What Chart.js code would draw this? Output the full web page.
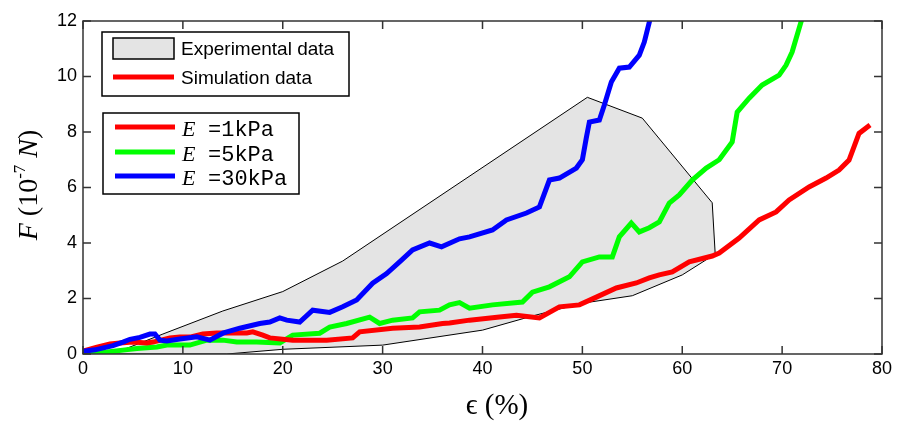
<!DOCTYPE html>
<html>
<head>
<meta charset="utf-8">
<script src="https://cdn.jsdelivr.net/npm/chart.js@4.4.0/dist/chart.umd.min.js"></script>
<style>
  html, body { margin: 0; background: #fff; }
</style>
</head>
<body>
<canvas id="force-chart" width="899" height="421"></canvas>
<script>
// experimental envelope (closed polygon), strain % / force 1e-7 N
const expStrain = [0, 4, 8, 14, 20, 26, 50.5, 56, 63, 63.3, 60, 55, 50, 45, 40, 30, 20, 14.4, 0];
const expForce  = [0, 0.15, 0.72, 1.55, 2.25, 3.35, 9.25, 8.5, 5.45, 3.6, 2.85, 2.1, 1.83, 1.37, 0.86, 0.32, 0.17, 0, 0];

// E = 1 kPa
const redStrain = [0, 1.4, 2.7, 3.7, 5, 6.4, 7, 8.7, 9.7, 10.7, 12, 13.4, 15.4, 16.4, 17, 18, 18.7, 21, 24.4, 27, 27.7, 31, 33.7, 36, 36.7, 38.7, 41.7, 43.4, 45.7, 47.7, 49.7, 51.4, 53.4, 55.4, 56.7, 57.7, 59, 60.7, 63, 63.7, 65.7, 67.7, 69.4, 70.7, 72.7, 74.4, 75.7, 76.7, 77.7, 78.8];
const redForce  = [0.1, 0.25, 0.36, 0.4, 0.43, 0.4, 0.43, 0.58, 0.61, 0.61, 0.72, 0.76, 0.76, 0.76, 0.8, 0.68, 0.58, 0.5, 0.5, 0.58, 0.8, 0.93, 0.97, 1.1, 1.12, 1.22, 1.33, 1.4, 1.3, 1.7, 1.77, 2.05, 2.38, 2.56, 2.74, 2.85, 2.96, 3.32, 3.53, 3.64, 4.18, 4.83, 5.12, 5.55, 6.02, 6.34, 6.63, 6.99, 7.95, 8.25];

// E = 5 kPa
const greenStrain = [0, 2.4, 4, 5.4, 7.4, 8.4, 10.7, 12.4, 14, 15.4, 17.4, 19.7, 21, 23.7, 24.7, 26.4, 28.7, 29.7, 31, 33, 33.7, 35.7, 36.7, 37.7, 38.7, 41, 44, 45, 46.7, 48.7, 50, 51.7, 53, 53.7, 54.9, 55.7, 56.7, 57.7, 58.7, 59.7, 61, 62.4, 63.7, 65, 65.5, 66.7, 68, 69.7, 70.4, 71, 72];
const greenForce  = [0.05, 0.07, 0.14, 0.2, 0.25, 0.32, 0.32, 0.5, 0.5, 0.43, 0.43, 0.4, 0.68, 0.75, 0.97, 1.1, 1.33, 1.1, 1.22, 1.3, 1.52, 1.58, 1.77, 1.85, 1.65, 1.77, 1.87, 2.23, 2.42, 2.78, 3.32, 3.5, 3.5, 4.22, 4.72, 4.4, 4.55, 4.76, 5.44, 5.73, 6.27, 6.7, 7.0, 7.64, 8.72, 9.22, 9.69, 10.05, 10.41, 10.88, 12.1];

// E = 30 kPa
const blueStrain = [0, 1.2, 3, 4, 4.7, 5.7, 6.7, 7.2, 7.7, 8.4, 9.7, 11.4, 12.7, 14, 15.7, 17.7, 18.7, 19.7, 20.4, 21.7, 23, 24.7, 26, 27.4, 29, 30.4, 31.7, 33, 34.7, 35.9, 37.7, 38.7, 41, 42.4, 44.4, 45.7, 46.7, 47.7, 49.4, 50, 50.4, 50.7, 51.7, 52.2, 52.9, 53.7, 54.7, 55.7, 56.2, 56.8];
const blueForce  = [0.1, 0.15, 0.3, 0.43, 0.53, 0.6, 0.72, 0.72, 0.5, 0.47, 0.54, 0.62, 0.5, 0.75, 0.93, 1.1, 1.15, 1.3, 1.22, 1.15, 1.58, 1.5, 1.7, 1.95, 2.55, 2.9, 3.32, 3.75, 4.0, 3.86, 4.15, 4.22, 4.47, 4.83, 5.08, 5.3, 6.27, 6.34, 6.7, 7.0, 7.8, 8.36, 8.43, 8.97, 9.8, 10.3, 10.34, 10.77, 11.24, 12.1];

const xTicks = [0, 10, 20, 30, 40, 50, 60, 70, 80];
const yTicks = [0, 2, 4, 6, 8, 10, 12];

const toPoints = (xs, ys) => xs.map((x, i) => ({ x: x, y: ys[i] }));

function curve(label, xs, ys, color, order) {
  return {
    label: label,
    data: toPoints(xs, ys),
    borderColor: color,
    backgroundColor: color,
    borderWidth: 5,
    pointRadius: 0,
    showLine: true,
    tension: 0,
    order: order,
  };
}

const frame = {
  id: 'frame',
  afterDraw(chart) {
    const ctx = chart.ctx;
    const a = chart.chartArea;
    const xs = chart.scales.x;
    const ys = chart.scales.y;
    ctx.save();
    ctx.strokeStyle = '#333';
    ctx.lineWidth = 1.5;
    ctx.beginPath();
    xTicks.forEach((v) => {
      const px = xs.getPixelForValue(v);
      ctx.moveTo(px, a.bottom); ctx.lineTo(px, a.bottom - 8);
      ctx.moveTo(px, a.top); ctx.lineTo(px, a.top + 8);
    });
    yTicks.forEach((v) => {
      const py = ys.getPixelForValue(v);
      ctx.moveTo(a.left, py); ctx.lineTo(a.left + 8, py);
      ctx.moveTo(a.right, py); ctx.lineTo(a.right - 8, py);
    });
    ctx.stroke();
    ctx.strokeRect(a.left, a.top, a.right - a.left, a.bottom - a.top);

    // legend box 1
    ctx.fillStyle = '#fff';
    ctx.fillRect(102, 32, 247, 64);
    ctx.strokeStyle = '#000';
    ctx.lineWidth = 1.5;
    ctx.strokeRect(102, 32, 247, 64);
    ctx.fillStyle = '#e4e4e4';
    ctx.fillRect(113, 38, 61, 21);
    ctx.strokeRect(113, 38, 61, 21);
    ctx.strokeStyle = '#ff0000';
    ctx.lineWidth = 5;
    ctx.beginPath(); ctx.moveTo(113, 77); ctx.lineTo(174, 77); ctx.stroke();
    ctx.fillStyle = '#000';
    ctx.font = '19px "Liberation Sans", Arial, sans-serif';
    ctx.textBaseline = 'middle';
    ctx.fillText('Experimental data', 181, 50);
    ctx.fillText('Simulation data', 181, 79);

    // legend box 2
    ctx.fillStyle = '#fff';
    ctx.fillRect(103, 113, 196, 81);
    ctx.strokeStyle = '#000';
    ctx.lineWidth = 1.5;
    ctx.strokeRect(103, 113, 196, 81);
    const rows = [['=1kPa', '#ff0000', 127], ['=5kPa', '#00ff00', 152], ['=30kPa', '#0000ff', 176]];
    rows.forEach((r) => {
      ctx.strokeStyle = r[1];
      ctx.lineWidth = 5;
      ctx.beginPath(); ctx.moveTo(115, r[2]); ctx.lineTo(175, r[2]); ctx.stroke();
      ctx.fillStyle = '#000';
      ctx.font = 'italic 22px "Liberation Serif", serif';
      ctx.fillText('E', 182, r[2] + 3);
      ctx.font = '22px "Liberation Mono", monospace';
      ctx.fillText(r[0], 208, r[2] + 3);
    });

    // axis titles
    ctx.textBaseline = 'alphabetic';
    ctx.font = '29px "Liberation Serif", "DejaVu Serif", serif';
    ctx.textAlign = 'center';
    ctx.fillText('\u03F5 (%)', 497, 414);

    ctx.textAlign = 'left';
    const parts = [
      ['F', 'italic 28px "Liberation Serif", serif', 0],
      [' (10', '28px "Liberation Serif", serif', 0],
      ['-7', '17px "Liberation Serif", serif', -12],
      [' N', 'italic 28px "Liberation Serif", serif', 0],
      [')', '28px "Liberation Serif", serif', 0],
    ];
    let total = 0;
    parts.forEach((p) => { ctx.font = p[1]; total += ctx.measureText(p[0]).width; });
    ctx.translate(37, 185);
    ctx.rotate(-Math.PI / 2);
    let x = -total / 2;
    parts.forEach((p) => {
      ctx.font = p[1];
      ctx.fillText(p[0], x, p[2]);
      x += ctx.measureText(p[0]).width;
    });
    ctx.restore();
  },
};

new Chart(document.getElementById('force-chart').getContext('2d'), {
  type: 'scatter',
  data: {
    datasets: [
      curve('E =30kPa', blueStrain, blueForce, '#0000ff', 1),
      curve('E =1kPa', redStrain, redForce, '#ff0000', 2),
      curve('E =5kPa', greenStrain, greenForce, '#00ff00', 3),
      {
        label: 'Experimental data',
        data: toPoints(expStrain, expForce),
        borderColor: '#000',
        backgroundColor: '#e4e4e4',
        borderWidth: 1,
        pointRadius: 0,
        showLine: true,
        tension: 0,
        fill: 'shape',
        order: 10,
      },
    ],
  },
  options: {
    responsive: false,
    animation: false,
    devicePixelRatio: 1,
    layout: { padding: { top: 21, right: 17, left: 0, bottom: 0 } },
    plugins: { legend: { display: false }, tooltip: { enabled: false } },
    scales: {
      x: {
        type: 'linear',
        min: 0,
        max: 80,
        afterFit: (s) => { s.height = 67; },
        afterBuildTicks: (s) => { s.ticks = xTicks.map((v) => ({ value: v })); },
        grid: { display: false, drawTicks: false },
        border: { display: false },
        ticks: { padding: 4, color: '#000', font: { family: '"Liberation Sans", Arial', size: 18 }, maxRotation: 0 },
      },
      y: {
        type: 'linear',
        min: 0,
        max: 12,
        afterFit: (s) => { s.width = 83; },
        afterBuildTicks: (s) => { s.ticks = yTicks.map((v) => ({ value: v })); },
        grid: { display: false, drawTicks: false },
        border: { display: false },
        ticks: { padding: 6, color: '#000', font: { family: '"Liberation Sans", Arial', size: 18 } },
      },
    },
  },
  plugins: [frame],
});
</script>
</body>
</html>
